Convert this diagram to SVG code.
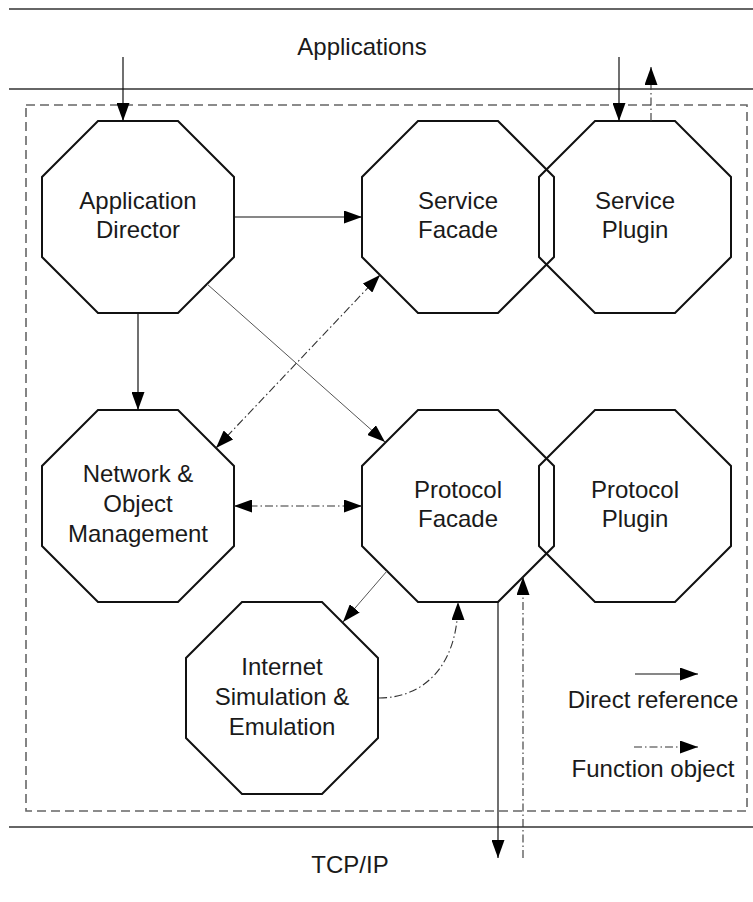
<svg xmlns="http://www.w3.org/2000/svg" width="753" height="902" viewBox="0 0 753 902">
<style>
.oct{fill:none;stroke:#111;stroke-width:2;stroke-linejoin:miter}
.lbl{font-family:"Liberation Sans",Arial,sans-serif;font-size:24px;fill:#1a1a1a;text-anchor:middle}
.frame{stroke:#666;stroke-width:1.8;fill:none}
.dash{stroke:#666;stroke-width:1.6;fill:none;stroke-dasharray:9 5}
.ref{stroke:#111;stroke-width:1.2;fill:none}
.thin{stroke:#555;stroke-width:1;fill:none}
.fn{stroke:#333;stroke-width:1.1;fill:none;stroke-dasharray:8 3 1.5 3}
</style>
<defs>
<marker id="ah" markerUnits="userSpaceOnUse" markerWidth="19" markerHeight="13" refX="18" refY="6.5" orient="auto-start-reverse">
<path d="M0,0 L18,6.5 L0,13 z" fill="#000"/>
</marker>
<polygon id="octagon" points="-40,-96 40,-96 96,-40 96,40 40,96 -40,96 -96,40 -96,-40"/>
</defs>
<rect width="753" height="902" fill="#fff"/>
<g id="frame">
<line class="frame" x1="9" y1="9" x2="753" y2="9"/>
<line class="frame" x1="9" y1="89" x2="753" y2="89"/>
<line class="frame" x1="9" y1="827" x2="753" y2="827"/>
<rect class="dash" x="26" y="105" width="721" height="706"/>
<text class="lbl" x="362" y="55">Applications</text>
<text class="lbl" x="350" y="873">TCP/IP</text>
</g>
<g id="app-director">
<use href="#octagon" class="oct" transform="translate(138,217)"/>
<text class="lbl" x="138" y="209">Application</text>
<text class="lbl" x="138" y="238">Director</text>
</g>
<g id="service-facade">
<use href="#octagon" class="oct" transform="translate(458,217)"/>
<text class="lbl" x="458" y="209">Service</text>
<text class="lbl" x="458" y="238">Facade</text>
</g>
<g id="service-plugin">
<use href="#octagon" class="oct" transform="translate(635,217)"/>
<text class="lbl" x="635" y="209">Service</text>
<text class="lbl" x="635" y="238">Plugin</text>
</g>
<g id="network-object-management">
<use href="#octagon" class="oct" transform="translate(138,506)"/>
<text class="lbl" x="138" y="482">Network &amp;</text>
<text class="lbl" x="138" y="512">Object</text>
<text class="lbl" x="138" y="542">Management</text>
</g>
<g id="protocol-facade">
<use href="#octagon" class="oct" transform="translate(458,506)"/>
<text class="lbl" x="458" y="498">Protocol</text>
<text class="lbl" x="458" y="527">Facade</text>
</g>
<g id="protocol-plugin">
<use href="#octagon" class="oct" transform="translate(635,506)"/>
<text class="lbl" x="635" y="498">Protocol</text>
<text class="lbl" x="635" y="527">Plugin</text>
</g>
<g id="internet-simulation">
<use href="#octagon" class="oct" transform="translate(282,698)"/>
<text class="lbl" x="282" y="675">Internet</text>
<text class="lbl" x="282" y="705">Simulation &amp;</text>
<text class="lbl" x="282" y="735">Emulation</text>
</g>
<g id="legend">
<line class="ref" x1="635" y1="674" x2="698" y2="674" marker-end="url(#ah)"/>
<text class="lbl" x="653" y="708">Direct reference</text>
<line class="fn" x1="634" y1="747" x2="698" y2="747" marker-end="url(#ah)"/>
<text class="lbl" x="653" y="777">Function object</text>
</g>
<g id="connectors">
<line class="ref" x1="123" y1="57" x2="123" y2="121" marker-end="url(#ah)"/>
<line class="ref" x1="619" y1="57" x2="619" y2="121" marker-end="url(#ah)"/>
<line class="fn" x1="651" y1="121" x2="651" y2="67" marker-end="url(#ah)"/>
<line class="ref" x1="234" y1="217" x2="362" y2="217" marker-end="url(#ah)"/>
<line class="ref" x1="138" y1="313" x2="138" y2="410" marker-end="url(#ah)"/>
<line class="thin" x1="207" y1="284" x2="385" y2="442" marker-end="url(#ah)"/>
<line class="fn" x1="216" y1="448" x2="380" y2="275" marker-start="url(#ah)" marker-end="url(#ah)"/>
<line class="fn" x1="234" y1="506" x2="362" y2="506" marker-start="url(#ah)" marker-end="url(#ah)"/>
<line class="thin" x1="387" y1="571" x2="343" y2="622" marker-end="url(#ah)"/>
<path class="fn" d="M379,698 C422,698 458,668 458,602" marker-end="url(#ah)"/>
<line class="ref" x1="498" y1="602" x2="498" y2="858" marker-end="url(#ah)"/>
<line class="fn" x1="523" y1="858" x2="523" y2="577" marker-end="url(#ah)"/>
</g>
</svg>
